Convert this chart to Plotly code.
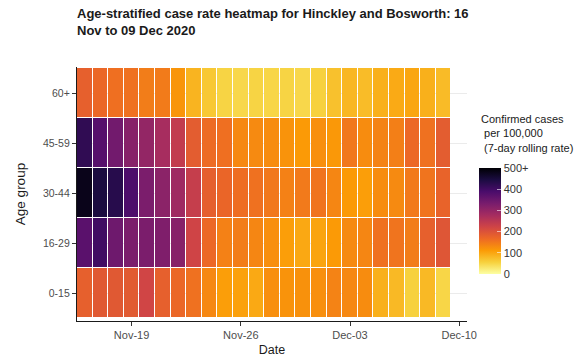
import plotly.graph_objects as go
import pandas as pd

dates = pd.date_range("2020-11-16", "2020-12-09", freq="D")
age_groups = ["0-15", "16-29", "30-44", "45-59", "60+"]

rate_0_15 = [180, 190, 190, 188, 220, 180, 170, 158, 132, 108, 105, 97,
             125, 120, 122, 125, 138, 132, 128, 90, 80, 55, 80, 50]
rate_16_29 = [370, 400, 345, 330, 330, 325, 315, 222, 168, 140, 145, 135,
              125, 108, 98, 102, 112, 130, 135, 158, 155, 145, 180, 195]
rate_30_44 = [480, 445, 430, 385, 330, 310, 285, 235, 182, 172, 162, 158,
              150, 140, 148, 155, 135, 112, 108, 128, 130, 148, 155, 175]
rate_45_59 = [420, 375, 340, 315, 300, 275, 240, 185, 165, 160, 132, 130,
              128, 120, 112, 125, 115, 150, 128, 138, 142, 168, 158, 185]
rate_60p = [180, 170, 160, 158, 145, 147, 118, 85, 65, 52, 48, 52,
            50, 52, 48, 55, 72, 82, 77, 90, 96, 100, 90, 78]

x_tick_dates = ["2020-11-19", "2020-11-26", "2020-12-03", "2020-12-10"]
x_tick_labels = ["Nov-19", "Nov-26", "Dec-03", "Dec-10"]
cb_tick_vals = [0, 100, 200, 300, 400, 500]
cb_tick_labels = ["0", "100", "200", "300", "400", "500+"]
cb_title = "Confirmed cases<br> per 100,000<br> (7-day rolling rate)"

z = [rate_0_15, rate_16_29, rate_30_44, rate_45_59, rate_60p]

inferno_r = [
    [0.0, "#fcffa4"], [1/9, "#f7d13d"], [2/9, "#fb9b06"], [3/9, "#ed6925"],
    [4/9, "#cf4446"], [5/9, "#a52c60"], [6/9, "#781c6d"], [7/9, "#4a0c6b"],
    [8/9, "#1b0c41"], [1.0, "#000004"],
]

W, H = 586, 362
L, R, T, B = 77, 119, 67, 41
pw, ph = W - L - R, H - T - B

fig = go.Figure(go.Heatmap(
    x=dates, y=age_groups, z=z,
    zmin=0, zmax=500, colorscale=inferno_r,
    xgap=1, ygap=1,
    colorbar=dict(
        tickvals=cb_tick_vals, ticktext=cb_tick_labels,
        ticks="inside", ticklen=4, tickcolor="rgba(255,255,255,0.6)",
        tickfont=dict(size=11, color="#333333"),
        thickness=22, lenmode="pixels", len=106,
        x=(479 - L) / pw, xanchor="left",
        y=(H - B - 221) / ph, yanchor="middle",
        outlinewidth=0, xpad=0, ypad=0,
    ),
))

fig.add_annotation(
    text=cb_title, xref="paper", yref="paper",
    x=(479 - L) / pw, y=(H - B - 111) / ph,
    xanchor="left", yanchor="top", align="left", showarrow=False,
    font=dict(size=11, color="#1a1a1a", family="Liberation Sans, Arial"),
)

fig.update_layout(
    width=W, height=H,
    margin=dict(l=L, r=R, t=T, b=B),
    paper_bgcolor="white", plot_bgcolor="white",
    font=dict(family="Liberation Sans, Arial", color="#4d4d4d"),
    title=dict(
        text="<b>Age-stratified case rate heatmap for Hinckley and Bosworth: 16<br>Nov to 09 Dec 2020</b>",
        x=L / W, xanchor="left", y=0.95, yanchor="top",
        font=dict(size=13, color="#1a1a1a", family="Liberation Sans, Arial"),
    ),
    xaxis=dict(
        type="date", automargin=False,
        range=["2020-11-15 12:00", "2020-12-10 12:00"],
        tickvals=x_tick_dates, ticktext=x_tick_labels,
        ticks="outside", ticklen=4, tickcolor="#333333",
        tickfont=dict(size=11, color="#4d4d4d"),
        showgrid=False, zeroline=False,
        showline=True, linecolor="#1a1a1a", linewidth=1.2,
        title=dict(text="Date", font=dict(size=12.5, color="#1a1a1a"), standoff=4),
    ),
    yaxis=dict(
        automargin=False,
        range=[-0.56, 4.52],
        ticks="outside", ticklen=4, tickcolor="#333333",
        tickfont=dict(size=10.5, color="#4d4d4d"),
        showgrid=True, gridcolor="#ebebeb", gridwidth=1,
        zeroline=False,
        showline=True, linecolor="#1a1a1a", linewidth=1.2,
        title=dict(text="Age group", font=dict(size=13.5, color="#1a1a1a"), standoff=14),
    ),
)

fig.write_html("out.html", config={"displayModeBar": False},
               post_script="document.body.style.margin='0';document.body.style.padding='0';")
